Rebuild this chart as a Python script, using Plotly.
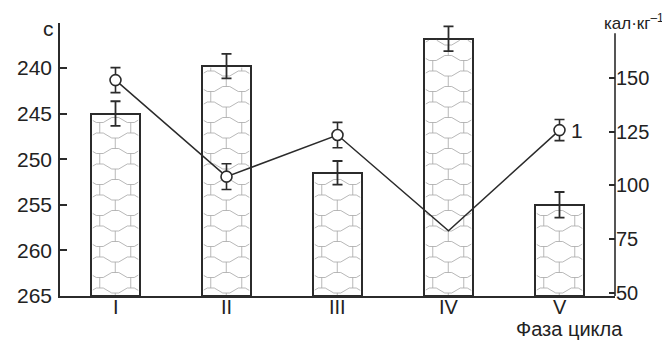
import numpy as np
import plotly.graph_objects as go

# ---------------- data ----------------
phases = ["I", "II", "III", "IV", "V"]
bar_values = [245.0, 239.8, 251.5, 236.8, 255.0]      # с  (left axis, reversed)
bar_errors = [1.35, 1.35, 1.3, 1.35, 1.4]
line_values = [148.9, 104.1, 123.4, 79.0, 125.7]     # кал·кг⁻¹ (right axis)
line_errors = [5.8, 6.0, 5.9, 0.0, 4.9]
marker_shown = [True, True, True, False, True]
left_ticks = [240, 245, 250, 255, 260, 265]
right_ticks = [50, 75, 100, 125, 150]
series_label = "1"

# ---------------- layout constants ----------------
# the page body has an 8 px margin, so the figure is drawn 8 px smaller/offset
PAGE_OFF = 8
W, H = 670 - PAGE_OFF, 343 - PAGE_OFF
M_L, M_R, M_T, M_B = 60 - PAGE_OFF, 55, 23 - PAGE_OFF, 47
PW, PH = W - M_L - M_R, H - M_T - M_B
x_range = [-0.5, 4.5]
left_range = [265, 235.07]
right_range = [48.7, 175.4]
right_line_top = 170.7
bar_width = 0.437
base_val = 265
INK = "#2b2b2b"
FONT = "Liberation Sans, Arial, sans-serif"

xpos = list(range(len(phases)))


def px_to_x(px):
    return x_range[0] + px / PW * (x_range[1] - x_range[0])


def px_to_y(py):
    return left_range[1] + py / PH * (left_range[0] - left_range[1])


def x_to_px(x):
    return (x - x_range[0]) / (x_range[1] - x_range[0]) * PW


def y_to_px(y):
    return (y - left_range[1]) / (left_range[0] - left_range[1]) * PH


def clip(p0, p1, xmin, xmax, ymin, ymax):
    x0, y0 = p0
    dx, dy = p1[0] - x0, p1[1] - y0
    t0, t1 = 0.0, 1.0
    for p, q in ((-dx, x0 - xmin), (dx, xmax - x0), (-dy, y0 - ymin), (dy, ymax - y0)):
        if p == 0:
            if q < 0:
                return None
        else:
            t = q / p
            if p < 0:
                if t > t1:
                    return None
                t0 = max(t0, t)
            else:
                if t < t0:
                    return None
                t1 = min(t1, t)
    if t1 - t0 < 1e-9:
        return None
    return (x0 + t0 * dx, y0 + t0 * dy), (x0 + t1 * dx, y0 + t1 * dy)


def honeycomb(rx0, rx1, ry0, ry1, phx, phy, P=31.0, f=3.5, h=5.0, rh=15.5):
    """Honeycomb texture (flattened-apex hexagons) clipped to a pixel rectangle."""
    xs, ys = [], []
    s = rh - h
    k0 = int(np.floor((ry0 - phy) / rh)) - 2
    k1 = int(np.ceil((ry1 - phy) / rh)) + 2
    for k in range(k0, k1 + 1):
        yk = phy + k * rh
        yv, yp = yk + h / 2, yk - h / 2
        off = phx + (k % 2) * P / 2
        j0 = int(np.floor((rx0 - off) / P)) - 2
        j1 = int(np.ceil((rx1 - off) / P)) + 2
        for j in range(j0, j1 + 1):
            xv = off + j * P
            segs = [((xv - f, yv), (xv + f, yv)),
                    ((xv + f, yv), (xv + P / 2 - f, yp)),
                    ((xv + P / 2 - f, yp), (xv + P / 2 + f, yp)),
                    ((xv + P / 2 + f, yp), (xv + P - f, yv)),
                    ((xv, yv), (xv, yv + s))]
            for a, b in segs:
                res = clip(a, b, rx0, rx1, ry0, ry1)
                if res:
                    (ax, ay), (bx, by) = res
                    xs += [px_to_x(ax), px_to_x(bx), None]
                    ys += [px_to_y(ay), px_to_y(by), None]
    return xs, ys


fig = go.Figure()

# bars
fig.add_trace(go.Bar(
    x=xpos, y=[v - base_val for v in bar_values], base=[base_val] * len(bar_values),
    width=bar_width, marker=dict(color="white", line=dict(color=INK, width=2)),
    hoverinfo="skip", showlegend=False))

# honeycomb texture inside each bar
hx, hy = [], []
for i, v in enumerate(bar_values):
    bx0 = x_to_px(i - bar_width / 2) + 1.5
    bx1 = x_to_px(i + bar_width / 2) - 1.5
    by0 = y_to_px(v) + 1.5
    by1 = y_to_px(base_val) - 1
    xs, ys = honeycomb(bx0, bx1, by0, by1, bx0 + 7, 4)
    hx += xs
    hy += ys
fig.add_trace(go.Scatter(x=hx, y=hy, mode="lines",
                         line=dict(color="#a6a6a6", width=0.8),
                         hoverinfo="skip", showlegend=False))

# bar error bars
fig.add_trace(go.Scatter(
    x=xpos, y=bar_values, mode="markers", marker=dict(size=1, opacity=0),
    error_y=dict(type="data", array=bar_errors, color=INK, thickness=1.8, width=5),
    hoverinfo="skip", showlegend=False))

# line (right axis)
fig.add_trace(go.Scatter(
    x=xpos, y=line_values, yaxis="y2", mode="lines",
    line=dict(color=INK, width=1.5), hoverinfo="skip", showlegend=False))

mx = [x for x, m in zip(xpos, marker_shown) if m]
my = [y for y, m in zip(line_values, marker_shown) if m]
me = [e for e, m in zip(line_errors, marker_shown) if m]
fig.add_trace(go.Scatter(
    x=mx, y=my, yaxis="y2", mode="markers",
    marker=dict(symbol="circle", size=11, color="white", line=dict(color=INK, width=1.6)),
    error_y=dict(type="data", array=me, color=INK, thickness=1.6, width=5),
    hoverinfo="skip", showlegend=False))

annotations = [
    dict(text="с", xref="paper", yref="paper", x=-12 / PW, y=1 - 5 / PH,
         showarrow=False, font=dict(size=21), xanchor="center", yanchor="middle"),
    dict(text="кал·кг<sup>–1</sup>", xref="paper", yref="paper", x=1 + 50 / PW, y=1 + 1 / PH,
         showarrow=False, font=dict(size=17), xanchor="right", yanchor="middle",
         borderpad=0),
    dict(text="Фаза цикла", xref="paper", yref="paper", x=1 - 46 / PW, y=-33 / PH,
         showarrow=False, font=dict(size=20), xanchor="center", yanchor="middle",
         borderpad=0),
    dict(text=series_label, x=xpos[-1], y=line_values[-1], xref="x", yref="y2",
         xshift=17, showarrow=False, font=dict(size=21),
         xanchor="center", yanchor="middle"),
]
for xp, lab in zip(xpos, phases):
    annotations.append(dict(text=lab, x=xp, y=0, xref="x", yref="paper", yshift=-11,
                            showarrow=False, font=dict(size=20), borderpad=0,
                            xanchor="center", yanchor="middle"))

fig.update_layout(
    width=W, height=H, margin=dict(l=M_L, r=M_R, t=M_T, b=M_B, autoexpand=False),
    paper_bgcolor="white", plot_bgcolor="white",
    font=dict(family=FONT, size=20, color="#222"),
    bargap=0,
    xaxis=dict(range=x_range, tickvals=xpos, ticktext=phases, showgrid=False,
               zeroline=False, showline=True, linecolor=INK, linewidth=1.6,
               ticks="", showticklabels=False),
    yaxis=dict(range=left_range, tickvals=left_ticks, showgrid=False, zeroline=False,
               showline=True, linecolor=INK, linewidth=1.6, ticks="inside",
               ticklen=7, tickwidth=1.6, tickcolor=INK, tickfont=dict(size=21),
               ticklabelstandoff=2),
    yaxis2=dict(range=right_range, overlaying="y", side="right", tickvals=right_ticks,
                showgrid=False, zeroline=False, showline=False, ticks="inside",
                ticklen=6, tickwidth=1.6, tickcolor=INK, tickfont=dict(size=20)),
    shapes=[dict(type="line", xref="paper", x0=1, x1=1, yref="y2",
                 y0=right_range[0], y1=right_line_top, line=dict(color=INK, width=1.6))],
    annotations=annotations,
)

fig.write_html("out.html")
